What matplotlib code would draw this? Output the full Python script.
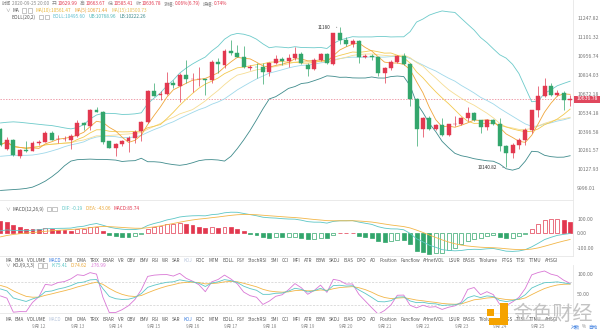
import matplotlib
matplotlib.use("Agg")
import matplotlib.pyplot as plt
import matplotlib.transforms as mtransforms
from matplotlib.patches import Rectangle
import numpy as np
import pandas as pd

plt.rcParams["font.family"] = ["Noto Sans CJK SC", "DejaVu Sans"]

# 4h candles, 2020-09-11 00:00 .. 2020-09-25 20:00
opens = [10416, 10273, 10339, 10220, 10263, 10256, 10315, 10320, 10387, 10341,
         10341, 10339, 10363, 10459, 10440, 10551, 10541, 10325, 10280, 10310,
         10327, 10351, 10399, 10469, 10696, 10661, 10669, 10753, 10735, 10815,
         10781, 10783, 10783, 10778, 10915, 10893, 10999, 10979, 10953, 10866,
         10876, 10873, 10838, 10908, 10936, 10923, 10943, 10974, 10893, 10863,
         10928, 10974, 10897, 11132, 11081, 11050, 11076, 10948, 10959, 10948,
         10832, 10870, 10913, 10959, 10898, 10634, 10418, 10498, 10418, 10447,
         10373, 10449, 10451, 10493, 10532, 10478, 10430, 10478, 10449, 10296,
         10244, 10303, 10339, 10411, 10551, 10654, 10733, 10666, 10681, 10629.99]
highs = [10425, 10358, 10344, 10268, 10327, 10325, 10339, 10397, 10399, 10375,
         10362, 10382, 10478, 10466, 10561, 10576, 10547, 10327, 10315, 10339,
         10368, 10406, 10471, 10703, 10753, 10691, 10840, 10778, 10828, 10928,
         10828, 10877, 10784, 10928, 10940, 11009, 11081, 11042, 11037, 10890,
         10902, 10902, 10915, 10966, 10953, 10974, 11029, 10991, 10903, 10940,
         10981, 10981, 11137, 11180, 11101, 11086, 11081, 10974, 10974, 10953,
         10877, 10928, 10966, 10979, 10903, 10642, 10502, 10507, 10454, 10496,
         10454, 10512, 10502, 10576, 10537, 10483, 10488, 10488, 10496, 10303,
         10315, 10351, 10423, 10556, 10733, 10793, 10753, 10703, 10691, 10663.67]
lows = [10296, 10263, 10220, 10209, 10249, 10254, 10303, 10318, 10334, 10316,
        10327, 10273, 10358, 10411, 10406, 10536, 10310, 10277, 10220, 10291,
        10249, 10315, 10327, 10461, 10654, 10629, 10664, 10718, 10616, 10753,
        10690, 10733, 10666, 10753, 10828, 10866, 10966, 10948, 10866, 10853,
        10791, 10748, 10803, 10897, 10890, 10877, 10928, 10895, 10808, 10853,
        10920, 10897, 10890, 11050, 11035, 11029, 10903, 10943, 10928, 10803,
        10753, 10853, 10903, 10890, 10586, 10296, 10358, 10411, 10406, 10368,
        10368, 10434, 10444, 10471, 10471, 10387, 10411, 10444, 10256, 10140.82,
        10209, 10268, 10303, 10387, 10502, 10646, 10654, 10654, 10556, 10585.41]
closes = [10303, 10339, 10225, 10263, 10254, 10315, 10320, 10387, 10339, 10346,
          10346, 10363, 10459, 10442, 10551, 10541, 10320, 10280, 10310, 10330,
          10351, 10394, 10469, 10696, 10659, 10669, 10753, 10738, 10815, 10783,
          10783, 10784, 10778, 10913, 10896, 10999, 10979, 10953, 10873, 10876,
          10873, 10838, 10908, 10936, 10923, 10943, 10974, 10903, 10863, 10928,
          10974, 10903, 11132, 11081, 11050, 11076, 10948, 10959, 10948, 10832,
          10870, 10913, 10959, 10898, 10634, 10418, 10498, 10418, 10447, 10373,
          10449, 10451, 10493, 10532, 10478, 10430, 10478, 10449, 10296, 10244,
          10303, 10339, 10411, 10551, 10654, 10733, 10666, 10681, 10630, 10636.78]

# bands at the left edge (history before the window is not visible)
boll_up_head = [10459, 10464, 10467, 10464, 10459, 10454, 10449, 10444, 10440, 10432,
                10423, 10416, 10425, 10447, 10488, 10517, 10529, 10529, 10527]
boll_dn_head = [9979, 9982, 9985, 9988, 9993, 10002, 10021, 10044, 10074, 10109,
                10152, 10185, 10195, 10197, 10199, 10197, 10197, 10195, 10192]
ema_start = (10238, 10219)   # ema12, ema26 at first candle
dea_start = -24
kd_start = (62, 71)

price_ticks = [9996.01, 10127.93, 10261.57, 10396.58, 10534.18, 10672.18,
               10814.03, 10956.74, 11101.32, 11247.82]
day_labels = ["9月 12", "9月 13", "9月 14", "9月 15", "9月 16", "9月 17", "9月 18",
              "9月 19", "9月 20", "9月 21", "9月 22", "9月 23", "9月 24", "9月 25"]
tab_names = ["MA", "EMA", "VOLUME", "MACD", "DMI", "DMA", "TRIX", "BRAR", "VR", "OBV",
             "EMV", "RSI", "WR", "SAR", "KDJ", "ROC", "MTM", "BOLL", "PSY", "StochRSI",
             "SMI", "CCI", "MFI", "ATR", "BBW", "SKDJ", "BIAS", "DPO", "AO", "Position",
             "Funcflow", "AHnetVOL", "LSUR", "BASIS", "TVolume", "FTGS", "TTSI", "TTMU", "AHSGI"]

RED = "#e2384f"
GREEN = "#33a66c"
GRAY = "#8a8a8a"
DARK = "#555555"
LINE = "#e6e6e6"
C_MA5, C_MA10, C_MA15 = "#f0a63c", "#f3c94f", "#f6dd93"
C_UP, C_MID, C_DN = "#6ccaca", "#9fd8ea", "#3f8b8c"
C_DIF, C_DEA, C_J = "#5cc6c6", "#f2b648", "#d977d5"

W, H = 600, 332
o = np.array(opens, float)
h = np.array(highs, float)
l = np.array(lows, float)
c = np.array(closes, float)
n = len(c)
x = np.arange(n)
cs = pd.Series(c)

ma5 = cs.rolling(5, min_periods=1).mean()
ma10 = cs.rolling(10, min_periods=1).mean()
ma15 = cs.rolling(15, min_periods=1).mean()
mid = cs.rolling(20).mean().to_numpy()
std = cs.rolling(20).std(ddof=0).to_numpy()
bup = mid + 2 * std
bdn = mid - 2 * std
k0 = len(boll_up_head)
bup[:k0] = boll_up_head
bdn[:k0] = boll_dn_head
mid[:k0] = (np.array(boll_up_head) + np.array(boll_dn_head)) / 2

e12, e26 = ema_start
dif = np.zeros(n)
dea = np.zeros(n)
dif[0] = e12 - e26
dea[0] = dea_start
for i in range(1, n):
    e12 += (c[i] - e12) * 2 / 13
    e26 += (c[i] - e26) * 2 / 27
    dif[i] = e12 - e26
    dea[i] = dea[i - 1] + (dif[i] - dea[i - 1]) * 0.2
hist = 2 * (dif - dea)

low9 = pd.Series(l).rolling(9, min_periods=1).min().to_numpy()
high9 = pd.Series(h).rolling(9, min_periods=1).max().to_numpy()
rsv = (c - low9) / (high9 - low9) * 100
kk = np.zeros(n)
dd = np.zeros(n)
kk[0], dd[0] = kd_start
for i in range(1, n):
    kk[i] = kk[i - 1] * 2 / 3 + rsv[i] / 3
    dd[i] = dd[i - 1] * 2 / 3 + kk[i] / 3
jj = 3 * kk - 2 * dd


def px_rect(x0, y0, x1, y1):
    return [x0 / W, 1 - y1 / H, (x1 - x0) / W, (y1 - y0) / H]


fig = plt.figure(figsize=(6, 3.32), dpi=100)
renderer = fig.canvas.get_renderer()

ax = fig.add_axes(px_rect(0, 0, 573, 200))
ax_m = fig.add_axes(px_rect(0, 201, 573, 256), sharex=ax)
ax_k = fig.add_axes(px_rect(0, 265, 573, 313), sharex=ax)

for a in (ax, ax_m, ax_k):
    for s in ("top", "left"):
        a.spines[s].set_visible(False)
    for s in ("right", "bottom"):
        a.spines[s].set_color(LINE)
        a.spines[s].set_linewidth(0.6)
    a.yaxis.tick_right()
    a.tick_params(axis="y", length=0, labelsize=3.7, labelcolor="#777777", pad=3)
    a.tick_params(axis="x", length=0, labelbottom=False)
    a.set_facecolor("white")

# main panel
col = np.where(c >= o, RED, GREEN)
ax.vlines(x, l, h, colors=col, lw=0.5, zorder=3)
ax.bar(x, np.abs(c - o), bottom=np.minimum(o, c), width=0.62, color=col,
       edgecolor=col, linewidth=0.3, zorder=4)
ax.plot(x, bup, color=C_UP, lw=0.6, zorder=2)
ax.plot(x, mid, color=C_MID, lw=0.6, zorder=2)
ax.plot(x, bdn, color=C_DN, lw=0.6, zorder=2)
ax.plot(x, ma15, color=C_MA15, lw=0.6, zorder=2)
ax.plot(x, ma10, color=C_MA10, lw=0.6, zorder=2)
ax.plot(x, ma5, color=C_MA5, lw=0.6, zorder=2)
ax.axhline(c[-1], color="#e8788a", lw=0.5, ls=(0, (2, 2)), zorder=1)

ax.set_yscale("log")
ax.set_ylim(9912.8, 11393.6)
ax.set_xlim(-0.08, 89.45)
ax.set_yticks(price_ticks, labels=[f"{v:.2f}" for v in price_ticks])
ax.set_yticks([], minor=True)

ih = int(np.argmax(h))
il = int(np.argmin(l))
ax.annotate(f"{h[ih]:.0f}", xy=(ih, h[ih]), xytext=(ih - 1.4, h[ih]), fontsize=3.4,
            color="#333333", ha="right", va="center",
            arrowprops=dict(arrowstyle="-", lw=0.4, color="#333333"))
ax.annotate(f"{l[il]:.2f}", xy=(il, l[il]), xytext=(il - 1.4, l[il]), fontsize=3.4,
            color="#333333", ha="right", va="center",
            arrowprops=dict(arrowstyle="-", lw=0.4, color="#333333"))

# price tag
fig.add_artist(Rectangle((574 / W, 1 - 102.5 / H), 26 / W, 7 / H, transform=fig.transFigure,
                         color="#e0475d", lw=0))
fig.text(587 / W, 1 - 99 / H, f"{c[-1]:.2f}", color="white", fontsize=3.7,
         ha="center", va="center")

# MACD panel
face = []
edge = []
for i in range(n):
    cc = RED if hist[i] >= 0 else GREEN
    rising = i > 0 and hist[i] > hist[i - 1]
    face.append("white" if rising else cc)
    edge.append(cc)
ax_m.bar(x, hist, width=0.62, color=face, edgecolor=edge, linewidth=0.5, zorder=2)
ax_m.plot(x, dif, color=C_DIF, lw=0.6, zorder=3)
ax_m.plot(x, dea, color=C_DEA, lw=0.6, zorder=3)
ax_m.set_ylim(-160, 231)
ax_m.set_yticks([100, 0, -100], labels=["100.00", "0.00", "-100.00"])

# KDJ panel
ax_k.axhline(80, color="#cfcfcf", lw=0.5, ls=(0, (3, 2)))
ax_k.axhline(20, color="#cfcfcf", lw=0.5, ls=(0, (3, 2)))
ax_k.plot(x, jj, color=C_J, lw=0.6)
ax_k.plot(x, dd, color=C_DEA, lw=0.6)
ax_k.plot(x, kk, color=C_DIF, lw=0.6)
ax_k.set_ylim(0, 123.7)
ax_k.set_yticks([100, 50], labels=["100.00", "50.00"])


def draw_parts(x0, y, parts, size=3.4):
    xx = x0
    for s, color, gap in parts:
        if s == "[]":
            for _ in range(2):
                fig.add_artist(Rectangle((xx / W, 1 - (y + 2.2) / H), 4.2 / W, 4.4 / H,
                                         transform=fig.transFigure, fill=False,
                                         edgecolor="#9a9a9a", lw=0.4))
                xx += 5.6
            xx += gap
            continue
        t = fig.text(xx / W, 1 - y / H, s, color=color, fontsize=size, ha="left", va="center")
        xx += t.get_window_extent(renderer).width + gap
    return xx


draw_parts(2, 3.5, [("时间", GRAY, 0.5), ("2020-09-25 20:00", GRAY, 2.5), ("开:", GRAY, 0),
                    ("10629.99", RED, 2.5), ("高:", GRAY, 0), ("10663.67", RED, 2.5),
                    ("低:", GRAY, 0), ("10585.41", RED, 2.5), ("收:", GRAY, 0),
                    ("10636.78", RED, 2.5), ("涨幅:", GRAY, 0), ("0.06%(6.79)", RED, 2.5),
                    ("振幅:", GRAY, 0), ("0.74%", RED, 0)])
draw_parts(5, 10.5, [("∨", GRAY, 2.5), ("MA", DARK, 3), ("[]", None, 2.5),
                     ("MA(10):10561.47", "#e9b736", 3.5), ("MA(5):10671.44", "#eaa33a", 3.5),
                     ("MA(15):10500.73", "#e8c15a", 0)])
draw_parts(12, 17, [("BOLL(20,2)", DARK, 3), ("[]", None, 2.5),
                    ("BOLL:10495.60", "#5fbfd0", 3.5), ("UB:10768.96", "#4fb8b8", 3.5),
                    ("LB:10222.26", "#3f8b8c", 0)])
draw_parts(5, 209, [("∨", GRAY, 2.5), ("MACD(12,26,9)", DARK, 3), ("[]", None, 4),
                    ("DIF: -0.19", C_DIF, 3.5), ("DEA: -43.06", "#eba93a", 3.5),
                    ("MACD:85.74", RED, 0)])
draw_parts(5, 265.5, [("∨", GRAY, 2.5), ("KDJ(9,3,3)", DARK, 3), ("[]", None, 2.5),
                      ("K:75.41", C_DIF, 3.5), ("D:74.62", "#eba93a", 3.5),
                      ("J:76.99", C_J, 0)])


def tab_row(y, active, faded):
    texts = []
    for name in tab_names:
        color = "#555555"
        if name == active:
            color = "#3d7fe0"
        elif name == faded:
            color = "#b9c6dc"
        texts.append(fig.text(0, 1 - y / H, name, color=color, fontsize=3.3,
                              ha="left", va="center"))
    widths = [t.get_window_extent(renderer).width for t in texts]
    gap = (558 - 5 - sum(widths)) / (len(texts) - 1)
    xx = 5
    for t, w in zip(texts, widths):
        t.set_x(xx / W)
        xx += w + gap


tab_row(261, "MACD", "KDJ")
tab_row(319.5, "KDJ", "MACD")

trans = mtransforms.blended_transform_factory(ax_k.transData, fig.transFigure)
for k, lab in enumerate(day_labels):
    fig.text(6 + 6 * k, 1 - 326.5 / H, lab, transform=trans, fontsize=3.3,
             color=GRAY, ha="center", va="center")
draw_parts(571, 327, [("对数", "#3d7fe0", 2), ("%", GRAY, 2), ("自动", "#3d7fe0", 0)], size=3.3)

# watermark
for (x0, y0, x1, y1) in [(500, 303, 508, 325), (489, 318, 508, 325), (487, 309, 494, 316)]:
    fig.add_artist(Rectangle((x0 / W, 1 - y1 / H), (x1 - x0) / W, (y1 - y0) / H,
                             transform=fig.transFigure, color="#f5a300", lw=0, zorder=10))
fig.text(553 / W, 1 - 314.5 / H, "金色财经", fontsize=14.5, color="#bdbdbd", alpha=0.9,
         ha="center", va="center", zorder=10)

fig.savefig("out.png", dpi=100, facecolor="white")
